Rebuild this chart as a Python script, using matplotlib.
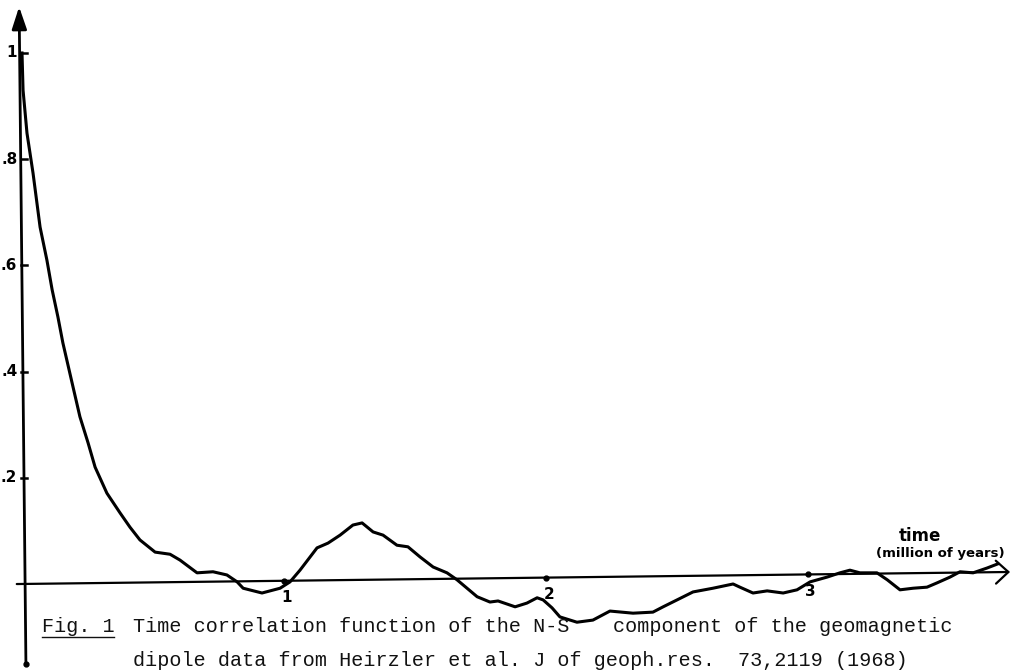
import numpy as np
import matplotlib.pyplot as plt
from matplotlib.lines import Line2D

# time lag (million of years) and correlation
time_myr = [0.000, 0.004, 0.019, 0.042, 0.069, 0.095, 0.115, 0.137, 0.156, 0.191,
            0.221, 0.252, 0.279, 0.324, 0.374, 0.412, 0.450, 0.508, 0.565, 0.603,
            0.668, 0.729, 0.782, 0.821, 0.844, 0.916, 0.985, 1.023, 1.061, 1.126,
            1.168, 1.214, 1.263, 1.298, 1.340, 1.378, 1.431, 1.473, 1.519, 1.569,
            1.622, 1.660, 1.737, 1.786, 1.817, 1.882, 1.927, 1.966, 1.989, 2.023,
            2.053, 2.118, 2.179, 2.244, 2.332, 2.408, 2.447, 2.500, 2.561, 2.637,
            2.714, 2.740, 2.790, 2.844, 2.905, 2.958, 3.008, 3.073, 3.122, 3.160,
            3.198, 3.263, 3.302, 3.351, 3.401, 3.454, 3.492, 3.542, 3.580, 3.630,
            3.683, 3.725]
correlation = [1.000, 0.930, 0.849, 0.774, 0.672, 0.610, 0.554, 0.503, 0.454, 0.379,
               0.315, 0.266, 0.220, 0.171, 0.134, 0.107, 0.083, 0.060, 0.056, 0.045,
               0.021, 0.023, 0.017, 0.004, -0.008, -0.017, -0.008, 0.004, 0.026, 0.068,
               0.077, 0.092, 0.111, 0.115, 0.098, 0.092, 0.073, 0.070, 0.051, 0.032,
               0.021, 0.008, -0.024, -0.034, -0.032, -0.043, -0.036, -0.026, -0.030, -0.045,
               -0.062, -0.072, -0.068, -0.051, -0.055, -0.053, -0.043, -0.030, -0.015, -0.008,
               0.000, -0.006, -0.017, -0.013, -0.017, -0.011, 0.004, 0.013, 0.021, 0.026,
               0.021, 0.021, 0.008, -0.011, -0.008, -0.006, 0.002, 0.013, 0.023, 0.021,
               0.030, 0.038]

ytick_vals = [1.0, 0.8, 0.6, 0.4, 0.2]
ytick_labels = ['1', '.8', '.6', '.4', '.2']
xtick_vals = [1, 2, 3]
xtick_labels = ['1', '2', '3']

W, H = 1020, 670
fig = plt.figure(figsize=(W / 100, H / 100), dpi=100)
ax = fig.add_axes([0, 0, 1, 1])
ax.set_xlim(-0.084, 3.809)
ax.set_ylim(-0.162, 1.0998)
ax.axis('off')

hand = dict(family='DejaVu Sans', fontweight='bold', color='black')
typed = dict(family='Liberation Mono', fontsize=14.5, color='#111111')

# hand-drawn axes (the time axis rises slightly to the right)
x_end, rise = 3.771, 0.0226
ax.annotate('', xy=(x_end, rise), xytext=(-0.02, -0.0001),
            arrowprops=dict(arrowstyle='->,head_length=0.6,head_width=0.55',
                            lw=1.6, color='black', mutation_scale=15,
                            shrinkA=0, shrinkB=0))
ax.annotate('', xy=(-0.011, 1.087), xytext=(0.015, -0.153),
            arrowprops=dict(arrowstyle='-|>,head_length=0.9,head_width=0.3',
                            lw=2.0, color='black', mutation_scale=15,
                            shrinkA=0, shrinkB=0))
ax.plot([0.015], [-0.150], 'o', color='black', ms=3.5)

# y ticks
for v, lab in zip(ytick_vals, ytick_labels):
    ax.plot([-0.004, 0.02], [v, v], color='black', lw=1.8)
    ax.text(-0.018, v, lab, ha='right', va='center', fontsize=11, **hand)

# x ticks
for t, lab in zip(xtick_vals, xtick_labels):
    ya = rise * t / x_end
    ax.plot([t], [ya], 'o', color='black', ms=3.5)
    ax.text(t + 0.01, ya - 0.032, lab, ha='center', va='center', fontsize=11, **hand)

# the correlation curve
ax.plot(time_myr, correlation, color='black', lw=2.2, solid_joinstyle='round')

# axis title
fig.text(920 / W, 1 - 536 / H, 'time', ha='center', va='center', fontsize=12, **hand)
fig.text(940 / W, 1 - 554 / H, '(million of years)', ha='center', va='center',
         fontsize=9.5, **hand)

# typed caption
def px(x, y):
    return x / W, 1 - y / H

fig.text(*px(42, 632), 'Fig. 1', ha='left', va='baseline', **typed)
fig.add_artist(Line2D([42 / W, 114 / W], [1 - 637 / H, 1 - 637 / H],
                      color='#111111', lw=1.0))
fig.text(*px(133, 632), 'Time correlation function of the N-S', ha='left',
         va='baseline', **typed)
fig.text(*px(613, 632), 'component of the geomagnetic', ha='left',
         va='baseline', **typed)
fig.text(*px(133, 666), 'dipole data from Heirzler et al. J of geoph.res.',
         ha='left', va='baseline', **typed)
fig.text(*px(738, 666), '73,2119 (1968)', ha='left', va='baseline', **typed)

plt.savefig('out.png', dpi=100, facecolor='white')
plt.close()
